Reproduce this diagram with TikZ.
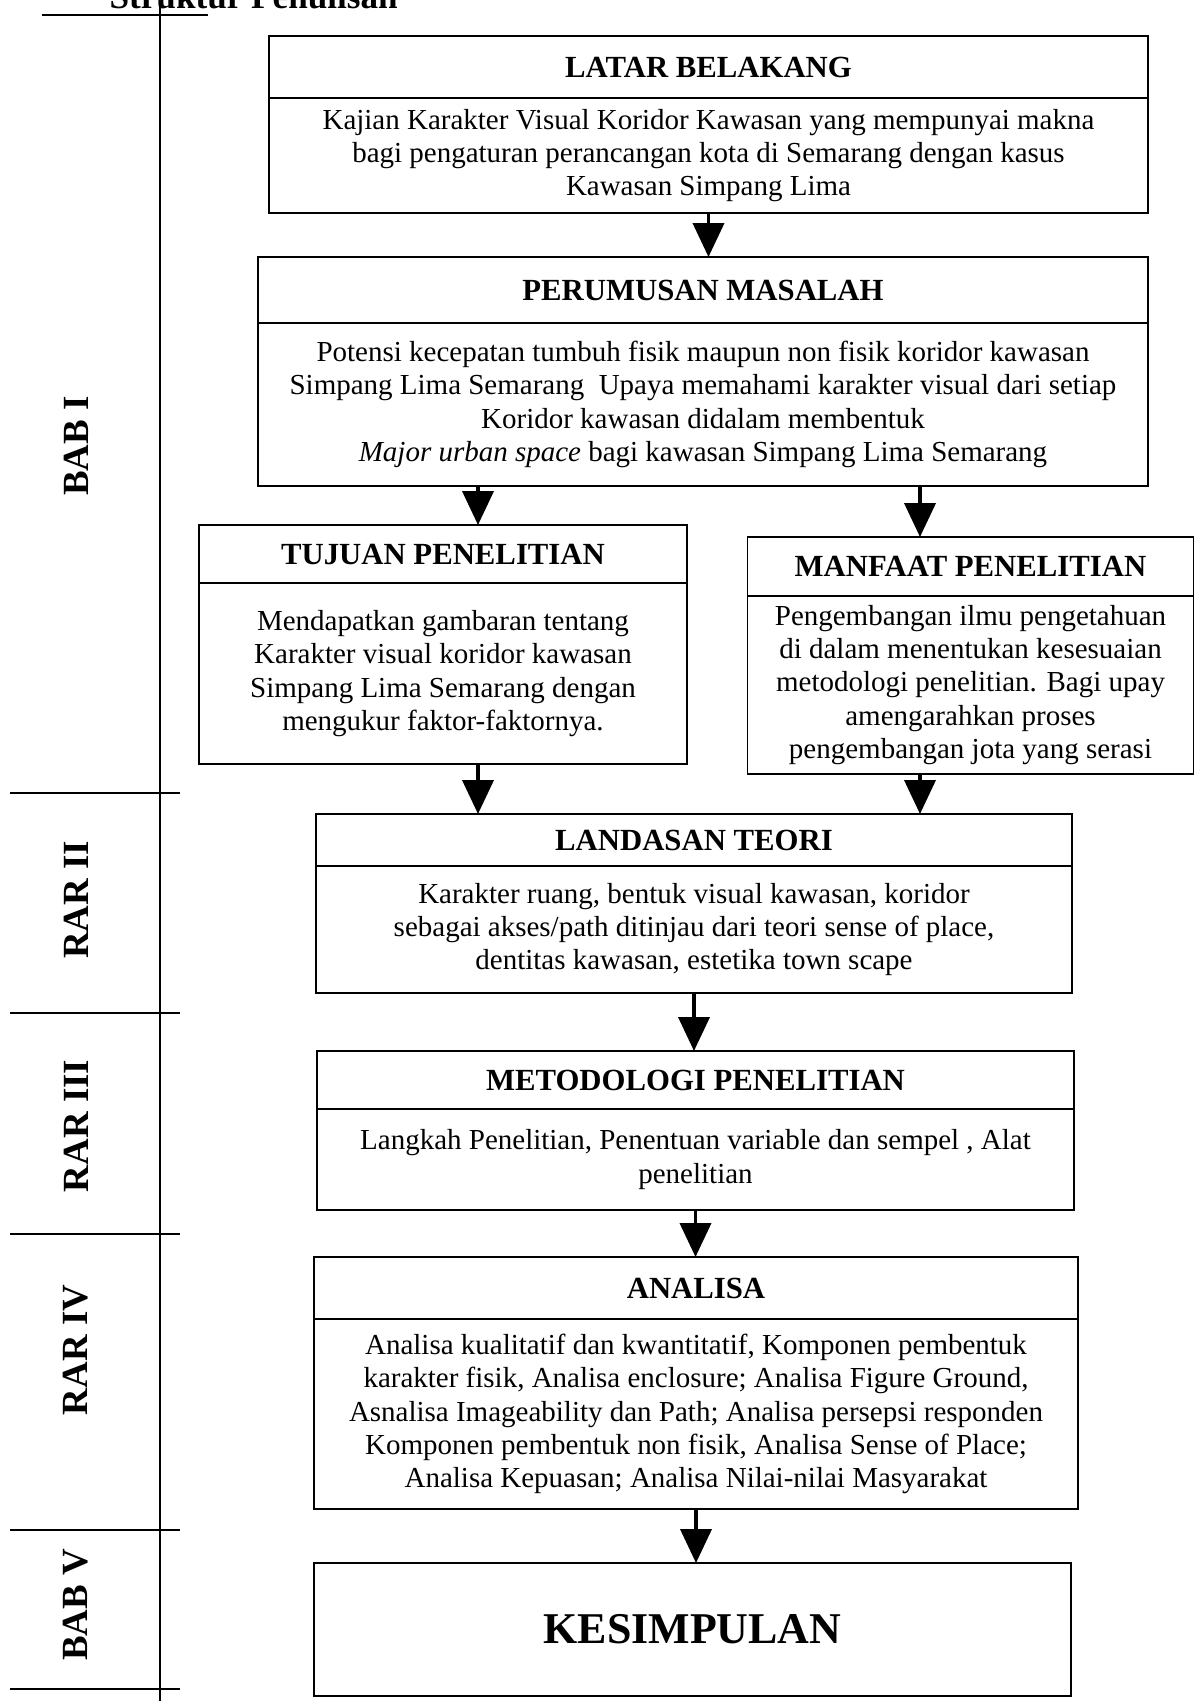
\documentclass[tikz,border=0pt]{standalone}
\usepackage{fontspec}
\setmainfont{Liberation Serif}
\usepackage{tikz}
\usetikzlibrary{arrows.meta, positioning}

\begin{document}
\begin{tikzpicture}[
    x=0.02cm, y=-0.02cm,
    node distance=0pt,
    headbox/.style={rectangle, draw, line width=0.9pt, outer sep=0pt, inner sep=2pt,
                    font=\bfseries\fontsize{17.5}{20}\selectfont},
    bodybox/.style={rectangle, draw, line width=0.9pt, outer sep=0pt, inner sep=2pt, align=center,
                    font=\fontsize{16.5}{19}\selectfont},
    babtext/.style={rotate=90, font=\bfseries\fontsize{21}{24}\selectfont},
    babline/.style={line width=1pt},
    flow/.style={-{Triangle[length=0.68cm, width=0.62cm]}, line width=2.2pt}
]
    \useasboundingbox (0,0) rectangle (1196,1701);

    % kolom bab di kiri
    \node[anchor=base east, inner sep=0pt, font=\bfseries\fontsize{20}{24}\selectfont] (judul) at (398,8) {Struktur Penulisan};
    \draw[babline] (160,6) -- (160,1701);
    \draw[babline] (42,15) -- (208,15);
    \foreach \y in {793,1013,1234,1530,1689}
        \draw[babline] (10,\y) -- (180,\y);
    \node[babtext] (bab1) at (76,446) {BAB I};
    \node[babtext] (bab2) at (76,900) {RAR II};
    \node[babtext] (bab3) at (76,1126) {RAR III};
    \node[babtext] (bab4) at (76,1350) {RAR IV};
    \node[babtext] (bab5) at (76,1605) {BAB V};

    % kotak alur
    \node[headbox, minimum width=17.58cm, minimum height=1.24cm] (latar) at (708.5,67) {LATAR BELAKANG};
    \node[bodybox, minimum width=17.58cm, minimum height=2.30cm, below=of latar] (latarBody) {
        Kajian Karakter Visual Koridor Kawasan yang mempunyai makna\\
        bagi pengaturan perancangan kota di Semarang dengan kasus\\
        Kawasan Simpang Lima};

    \node[headbox, minimum width=17.8cm, minimum height=1.32cm] (perum) at (703,290) {PERUMUSAN MASALAH};
    \node[bodybox, minimum width=17.8cm, minimum height=3.26cm, below=of perum] (perumBody) {
        Potensi kecepatan tumbuh fisik maupun non fisik koridor kawasan\\
        Simpang Lima Semarang \ Upaya memahami karakter visual dari setiap\\
        Koridor kawasan didalam membentuk\\
        \textit{Major urban space} bagi kawasan Simpang Lima Semarang};

    \node[headbox, minimum width=9.76cm, minimum height=1.16cm] (tujuan) at (443,554) {TUJUAN PENELITIAN};
    \node[bodybox, minimum width=9.76cm, minimum height=3.62cm, below=of tujuan] (tujuanBody) {
        Mendapatkan gambaran tentang\\
        Karakter visual koridor kawasan\\
        Simpang Lima Semarang dengan\\
        mengukur faktor-faktornya.};

    \node[headbox, minimum width=8.92cm, minimum height=1.18cm] (manfaat) at (970.5,566.5) {MANFAAT PENELITIAN};
    \node[bodybox, minimum width=8.92cm, minimum height=3.56cm, below=of manfaat] (manfaatBody) {
        Pengembangan ilmu pengetahuan\\
        di dalam menentukan kesesuaian\\
        metodologi penelitian. Bagi upay\\
        amengarahkan proses\\
        pengembangan jota yang serasi};

    \node[headbox, minimum width=15.12cm, minimum height=1.04cm] (landasan) at (694,840) {LANDASAN TEORI};
    \node[bodybox, minimum width=15.12cm, minimum height=2.54cm, below=of landasan] (landasanBody) {
        Karakter ruang, bentuk visual kawasan, koridor\\
        sebagai akses/path ditinjau dari teori sense of place,\\
        dentitas kawasan, estetika town scape};

    \node[headbox, minimum width=15.14cm, minimum height=1.16cm] (metode) at (695.5,1080) {METODOLOGI PENELITIAN};
    \node[bodybox, minimum width=15.14cm, minimum height=2.02cm, below=of metode] (metodeBody) {
        Langkah Penelitian, Penentuan variable dan sempel , Alat\\
        penelitian};

    \node[headbox, minimum width=15.28cm, minimum height=1.24cm] (analisa) at (696,1288) {ANALISA};
    \node[bodybox, minimum width=15.28cm, minimum height=3.80cm, below=of analisa] (analisaBody) {
        Analisa kualitatif dan kwantitatif, Komponen pembentuk\\
        karakter fisik, Analisa enclosure; Analisa Figure Ground,\\
        Asnalisa Imageability dan Path; Analisa persepsi responden\\
        Komponen pembentuk non fisik, Analisa Sense of Place;\\
        Analisa Kepuasan; Analisa Nilai-nilai Masyarakat};

    \node[headbox, minimum width=15.14cm, minimum height=2.66cm,
          font=\bfseries\fontsize{25}{28}\selectfont] (kesimpulan) at (692.5,1629.5) {KESIMPULAN};

    % panah
    \coordinate (kiri) at (478,0);
    \coordinate (kanan) at (920,0);
    \draw[flow] (latarBody.south) -- (latarBody.south |- perum.north);
    \draw[flow] (kiri |- perumBody.south) -- (kiri |- tujuan.north);
    \draw[flow] (kanan |- perumBody.south) -- (kanan |- manfaat.north);
    \draw[flow] (kiri |- tujuanBody.south) -- (kiri |- landasan.north);
    \draw[flow] (kanan |- manfaatBody.south) -- (kanan |- landasan.north);
    \draw[flow] (landasanBody.south) -- (landasanBody.south |- metode.north);
    \draw[flow] (metodeBody.south) -- (metodeBody.south |- analisa.north);
    \draw[flow] (analisaBody.south) -- (analisaBody.south |- kesimpulan.north);
\end{tikzpicture}
\end{document}
